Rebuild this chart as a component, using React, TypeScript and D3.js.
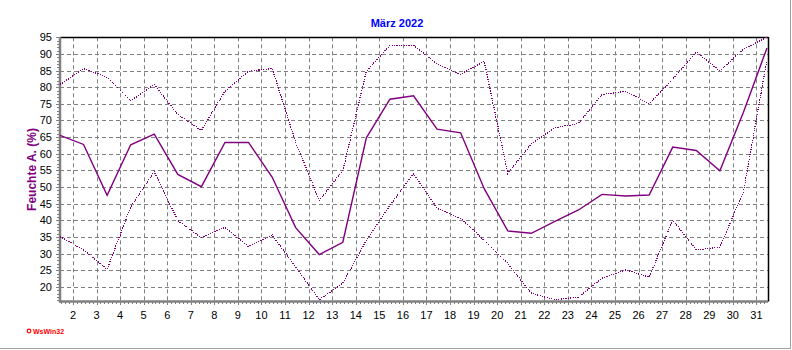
import React from "react";
import * as d3 from "d3";

const days: number[] = d3.range(1, 32);
const xTickLabels: number[] = d3.range(2, 32);
const yTickValues: number[] = [20, 25, 30, 35, 40, 45, 50, 55, 60, 65, 70, 75, 80, 85, 90, 95];

const meanValues: number[] = [65.5, 62.8, 47.5, 62.7, 65.9, 53.8, 50.1, 63.4, 63.4, 53, 37.8, 29.7, 33.4, 64.8, 76.4, 77.4, 67.4, 66.3, 49.5, 36.8, 36.1, 39.7, 43.1, 47.8, 47.3, 47.6, 62, 61, 54.9, 72.5, 91.8];
const maxValues: number[] = [80.8, 85.6, 83, 75.9, 80.8, 71.8, 67, 78.8, 84.8, 85.6, 63.5, 45.9, 55, 84.8, 92.6, 92.6, 87, 83.9, 87.8, 54.1, 63, 67.8, 69.1, 77.8, 78.8, 75, 82.4, 90.6, 84.9, 91.5, 95];
const minValues: number[] = [35.1, 31.1, 25.3, 44, 54.6, 39.9, 34.8, 37.9, 32.1, 35.6, 26, 16.1, 21.1, 34, 44.5, 54, 43.6, 40.6, 34, 27, 18.1, 16.1, 16.9, 22.6, 25.1, 22.9, 40.1, 31.1, 31.9, 48.5, 88.3];

const title = "März 2022";
const yTitle = "Feuchte A. (%)";
const credit = "WsWin32";

const W = 792;
const H = 350;
const left = 60;
const right = 768;
const top = 37.3;
const bottom = 301.5;
const dayOffset = 0.45;

export default function App() {
  const x = d3.scaleLinear().domain([1 + dayOffset, 31 + dayOffset]).range([left, 767]);
  const y = d3.scaleLinear().domain([15.6, 95]).range([bottom, top]);
  const line = (vals: number[]) =>
    d3.line<number>()
      .x((_, i) => x(days[i] + dayOffset))
      .y((v) => y(v))(vals) as string;

  const minorX: number[] = [];
  for (let t = 2 - 4 / 6; t <= 31 + dayOffset + 0.001; t += 1 / 6) {
    if (t >= 1 + dayOffset - 0.001) minorX.push(t);
  }
  const minorY: number[] = d3.range(16, 96, 1);
  const font = "Arial, 'Liberation Sans', sans-serif";
  const purple = "#800080";
  const grid = "#808080";

  return (
    <svg width={W} height={H} style={{ position: "absolute", left: 0, top: 0, background: "#fff" }} fontFamily={font}>
      <rect x={0} y={0} width={W} height={H} fill="#fff" />
      {/* panel border */}
      <line x1={790.5} y1={0} x2={790.5} y2={349} stroke="#a0a0a0" />
      <line x1={0} y1={348.5} x2={791} y2={348.5} stroke="#a0a0a0" />

      {/* horizontal grid */}
      {yTickValues.filter((v) => v < 95).map((v) => (
        <line key={"hg" + v} x1={left} x2={right} y1={Math.round(y(v)) + 0.5} y2={Math.round(y(v)) + 0.5}
          stroke={grid} strokeDasharray="4,3" />
      ))}
      {/* vertical grid */}
      {xTickLabels.map((d) => (
        <line key={"vg" + d} x1={Math.round(x(d)) + 0.5} x2={Math.round(x(d)) + 0.5} y1={top} y2={bottom}
          stroke={grid} strokeDasharray="4,3" />
      ))}

      {/* frame top & right */}
      <line x1={left} x2={right + 0.5} y1={37.5} y2={37.5} stroke="#000" strokeWidth={1.5} />
      <line x1={right + 0.5} x2={right + 0.5} y1={37} y2={bottom} stroke="#000" strokeWidth={1.5} />

      {/* y axis */}
      <line x1={60} x2={60} y1={37} y2={302.5} stroke={grid} strokeWidth={2.5} />
      {minorY.map((v) => (
        <line key={"my" + v} x1={v % 5 === 0 ? 56 : 57} x2={59} y1={Math.round(y(v)) + 0.5} y2={Math.round(y(v)) + 0.5}
          stroke={grid} strokeWidth={1} />
      ))}
      {yTickValues.map((v) => (
        <text key={"yl" + v} x={52} y={y(v) + 4} textAnchor="end" fontSize={11} fill="#000">{v}</text>
      ))}

      {/* x axis */}
      <line x1={59} x2={right} y1={301.5} y2={301.5} stroke={grid} strokeWidth={2.5} />
      {minorX.map((t, i) => {
        const major = Math.abs(t - Math.round(t)) < 0.01;
        return (
          <line key={"mx" + i} x1={Math.round(x(t)) + 0.5} x2={Math.round(x(t)) + 0.5} y1={302} y2={major ? 305 : 304}
            stroke={grid} strokeWidth={1} />
        );
      })}
      {xTickLabels.map((d) => (
        <text key={"xl" + d} x={x(d)} y={319} textAnchor="middle" fontSize={11} fill="#000">{d}</text>
      ))}

      {/* series */}
      <path d={line(maxValues)} fill="none" stroke={purple} strokeWidth={1.2} strokeDasharray="1.2,1.2" shapeRendering="crispEdges" />
      <path d={line(minValues)} fill="none" stroke={purple} strokeWidth={1.2} strokeDasharray="1.2,1.2" shapeRendering="crispEdges" />
      <path d={line(meanValues)} fill="none" stroke={purple} strokeWidth={1.4} />

      {/* titles */}
      <text x={397} y={27} textAnchor="middle" fontSize={11} fontWeight="bold" fill="#0000ff">{title}</text>
      <text transform="translate(36,169.5) rotate(-90)" textAnchor="middle" fontSize={12} fontWeight="bold" fill={purple}>{yTitle}</text>

      {/* credit */}
      <circle cx={29} cy={331} r={1.8} fill="#fff" stroke="#ff0000" strokeWidth={1.2} />
      <text x={33} y={333.5} fontSize={7} fontWeight="bold" fill="#ff0000">{credit}</text>
    </svg>
  );
}
